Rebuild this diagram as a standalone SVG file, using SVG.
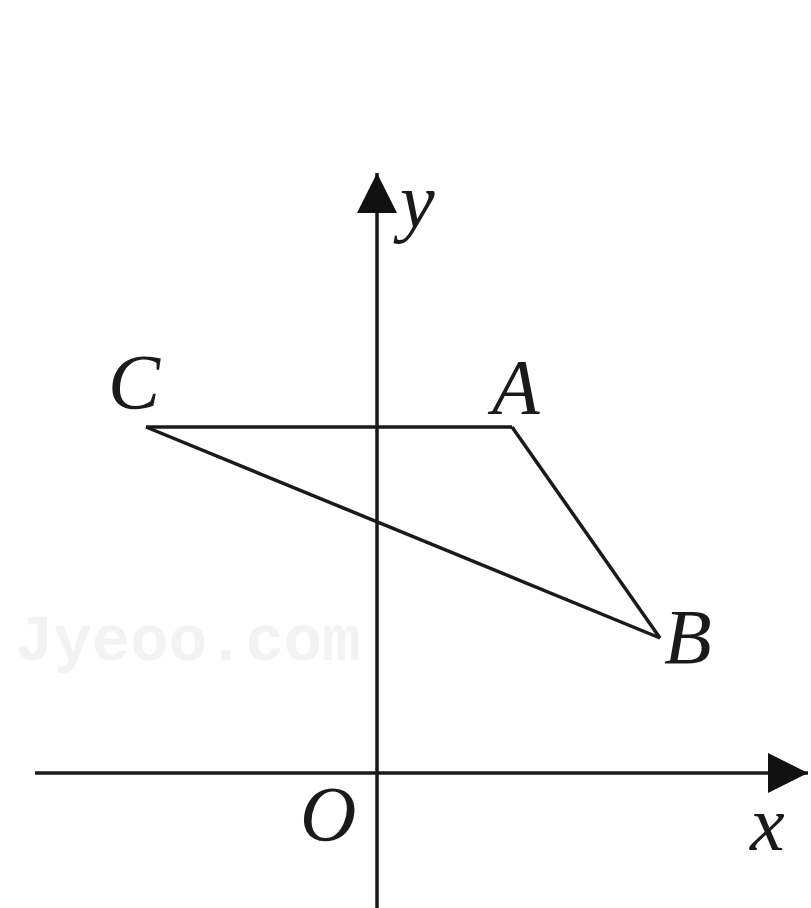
<svg xmlns="http://www.w3.org/2000/svg" width="811" height="908" viewBox="0 0 811 908">
<style>
.ln{stroke:#1a1a1a;stroke-width:3.5;fill:none;stroke-linejoin:miter}
.lbl{font-family:"Liberation Serif","Times New Roman",serif;font-style:italic;font-size:78px;fill:#1a1a1a}
.wm{font-family:"Liberation Mono","Courier New",monospace;font-weight:bold;font-size:64px;fill:#f3f3f3}
</style>
<defs>
<marker id="arr" viewBox="0 0 40 40" refX="40" refY="20" markerWidth="40" markerHeight="40" markerUnits="userSpaceOnUse" orient="auto">
<path d="M0,0 L40,20 L0,40 Z" fill="#111"/>
</marker>
</defs>
<rect width="811" height="908" fill="#fff"/>
<text class="wm" x="15" y="660">Jyeoo.com</text>
<g id="connectors">
<line id="x-axis" class="ln" x1="35" y1="773" x2="808" y2="773" marker-end="url(#arr)"/>
<line id="y-axis" class="ln" x1="377" y1="908" x2="377" y2="173" marker-end="url(#arr)"/>
<line id="CA" class="ln" x1="146" y1="427" x2="512" y2="427"/>
<line id="AB" class="ln" x1="512" y1="427" x2="660" y2="638"/>
<line id="CB" class="ln" x1="146" y1="427" x2="660" y2="638"/>
</g>
<g id="node-C"><text class="lbl" x="108" y="408">C</text></g>
<g id="node-A"><text class="lbl" x="492" y="413">A</text></g>
<g id="node-B"><text class="lbl" x="664" y="663">B</text></g>
<g id="node-O"><text class="lbl" x="300" y="840">O</text></g>
<g id="label-x"><text class="lbl" x="750" y="850">x</text></g>
<g id="label-y"><text class="lbl" x="400" y="227">y</text></g>
</svg>
